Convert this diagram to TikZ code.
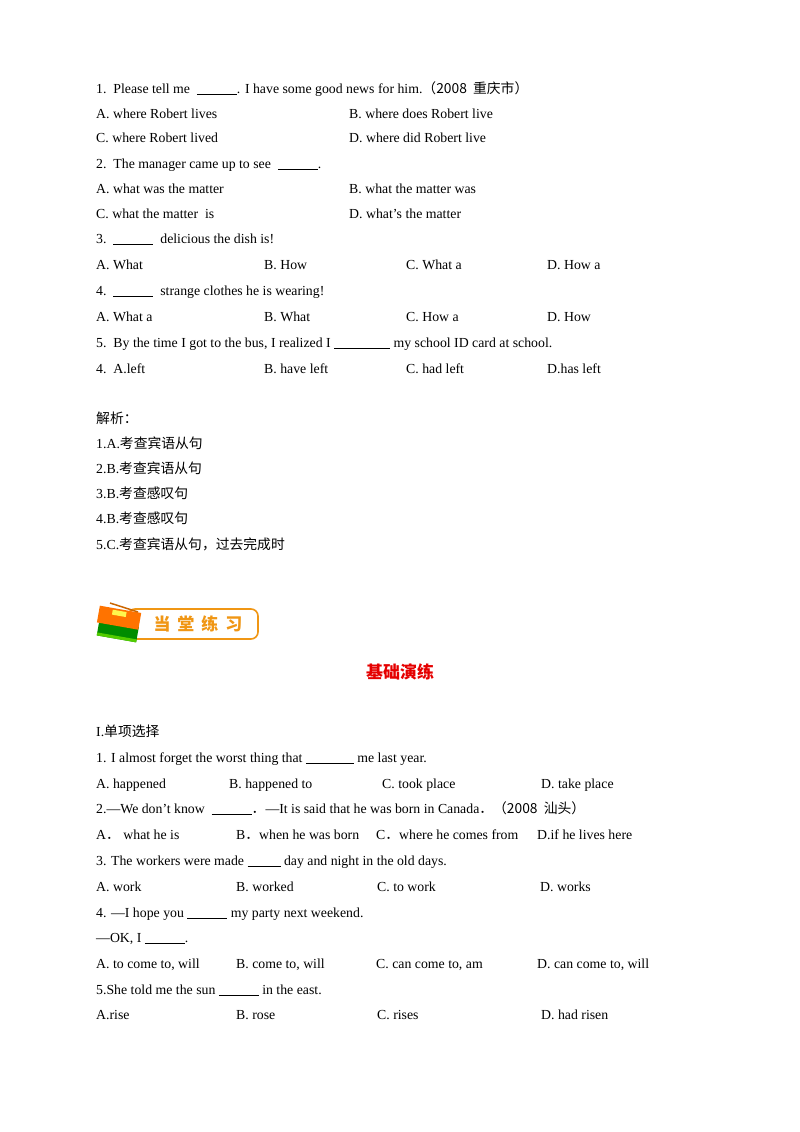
\documentclass[tikz,border=0pt]{standalone}
\usepackage{fontspec}
\setmainfont{Liberation Serif}
\newfontfamily\cjk{Noto Sans CJK SC}
\begin{document}
\begin{tikzpicture}[x=1pt,y=-1pt,
  t/.style={anchor=base west,inner sep=0pt,font=\fontsize{13.8}{15}\selectfont}]
\useasboundingbox (0,0) rectangle (800,1132);
\fill[white] (0,0) rectangle (800,1132);
\newcommand\bl[1]{\rule[-1.5pt]{#1}{0.8pt}}
\newcommand\tl[3]{\node[t] (#1) at (#2) {#3};}
% section 1
\tl{q1}{96,93}{1.\ \ Please tell me \ \bl{40pt}. I have some good news for him.{\cjk （2008\ \ 重庆市）}}
\tl{q1a}{96,118}{A. where Robert lives}
\tl{q1b}{349,118}{B. where does Robert live}
\tl{q1c}{96,142}{C. where Robert lived}
\tl{q1d}{349,142}{D. where did Robert live}
\tl{q2}{96,168}{2.\ \ The manager came up to see \ \bl{40pt}.}
\tl{q2a}{96,193}{A. what was the matter}
\tl{q2b}{349,193}{B. what the matter was}
\tl{q2c}{96,218}{C. what the matter\ \ is}
\tl{q2d}{349,218}{D. what's the matter}
\tl{q3}{96,243}{3.\ \ \bl{40pt}\ \ delicious the dish is!}
\tl{q3a}{96,269}{A. What}
\tl{q3b}{264,269}{B. How}
\tl{q3c}{406,269}{C. What a}
\tl{q3d}{547,269}{D. How a}
\tl{q4}{96,295}{4.\ \ \bl{40pt}\ \ strange clothes he is wearing!}
\tl{q4a}{96,321}{A. What a}
\tl{q4b}{264,321}{B. What}
\tl{q4c}{406,321}{C. How a}
\tl{q4d}{547,321}{D. How}
\tl{q5}{96,347}{5.\ \ By the time I got to the bus, I realized I \bl{56pt} my school ID card at school.}
\tl{q5a}{96,373}{4.\ \ A.left}
\tl{q5b}{264,373}{B. have left}
\tl{q5c}{406,373}{C. had left}
\tl{q5d}{547,373}{D.has left}
% analysis
\tl{j0}{96,423}{{\cjk 解析：}}
\tl{j1}{96,448}{1.A.{\cjk 考查宾语从句}}
\tl{j2}{96,473}{2.B.{\cjk 考查宾语从句}}
\tl{j3}{96,498}{3.B.{\cjk 考查感叹句}}
\tl{j4}{96,523}{4.B.{\cjk 考查感叹句}}
\tl{j5}{96,549}{5.C.{\cjk 考查宾语从句，过去完成时}}
% banner
\definecolor{bor}{RGB}{240,150,20}
\draw[bor,line width=1.6pt,rounded corners=7pt,fill=white] (128,609) rectangle (258,639);
\node[font=\cjk\bfseries\fontsize{17}{18}\selectfont,text=bor,inner sep=0pt] (ban) at (198,624) {当\hspace{7pt}堂\hspace{7pt}练\hspace{7pt}习};
\fill[green!55!black,rotate around={-10:(118,630)}] (98,623) rectangle (138,639);
\fill[green!60!yellow!80!black,rotate around={-10:(118,630)}] (98,636) rectangle (138,639);
\fill[orange!90!red,rotate around={-10:(118,618)}] (98,609) rectangle (140,626);
\fill[yellow!70,rotate around={-10:(120,615)}] (112,611) rectangle (126,616);
\draw[orange!80!black,line width=1.5pt] (110,603) -- (138,612);
% title
\node[font=\cjk\bfseries\fontsize{17}{18}\selectfont,text=red!90!black] (title) at (400,672) {基础演练};
% section 2
\tl{s}{96,736}{I.{\cjk 单项选择}}
\tl{p1}{96,762}{1. I almost forget the worst thing that \bl{48pt} me last year.}
\tl{p1a}{96,788}{A. happened}
\tl{p1b}{229,788}{B. happened to}
\tl{p1c}{382,788}{C. took place}
\tl{p1d}{541,788}{D. take place}
\tl{p2}{96,813}{2.—We don't know \ \bl{40pt}{\cjk ．}—It is said that he was born in Canada{\cjk ．（2008\ \ 汕头）}}
\tl{p2a}{96,839}{A{\cjk ．}\ what he is}
\tl{p2b}{236,839}{B{\cjk ．}when he was born}
\tl{p2c}{376,839}{C{\cjk ．}where he comes from}
\tl{p2d}{537,839}{D.if he lives here}
\tl{p3}{96,865}{3. The workers were made \bl{33pt} day and night in the old days.}
\tl{p3a}{96,891}{A. work}
\tl{p3b}{236,891}{B. worked}
\tl{p3c}{377,891}{C. to work}
\tl{p3d}{540,891}{D. works}
\tl{p4}{96,917}{4. —I hope you \bl{40pt} my party next weekend.}
\tl{p4x}{96,942}{—OK, I \bl{40pt}.}
\tl{p4a}{96,968}{A. to come to, will}
\tl{p4b}{236,968}{B. come to, will}
\tl{p4c}{376,968}{C. can come to, am}
\tl{p4d}{537,968}{D. can come to, will}
\tl{p5}{96,994}{5.She told me the sun \bl{40pt} in the east.}
\tl{p5a}{96,1019}{A.rise}
\tl{p5b}{236,1019}{B. rose}
\tl{p5c}{377,1019}{C. rises}
\tl{p5d}{541,1019}{D. had risen}
\end{tikzpicture}
\end{document}
